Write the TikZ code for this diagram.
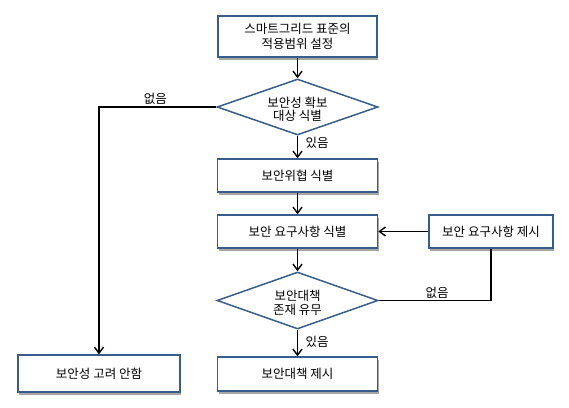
\documentclass[tikz,border=0pt]{standalone}
\usepackage{fontspec}
\setmainfont{Noto Sans CJK KR}
\usetikzlibrary{shapes.geometric,arrows.meta,shadows}
\definecolor{boxblue}{HTML}{385D8A}
\tikzset{
  every node/.style={font=\fontsize{12.5}{14.5}\selectfont},
  procbox/.style={draw=boxblue, line width=1.5pt, fill=white, inner sep=0pt, align=center,
    drop shadow={shadow xshift=1pt, shadow yshift=-2.5pt, fill=black, opacity=0.35}},
  decbox/.style={diamond, draw=boxblue, line width=1.5pt, fill=white, inner sep=0pt, align=center, aspect=2.9},
  conn/.style={line width=1.4pt, black},
  arr/.style={conn, -{Straight Barb[length=6pt,width=9pt]}},
  lbl/.style={inner sep=1.5pt}
}
\newcommand{\lowertext}[1]{\raisebox{-4pt}[\height][\depth]{#1}}
\begin{document}
\begin{tikzpicture}[x=1pt,y=-1pt]
\useasboundingbox (0,0) rectangle (569,407);
\node[procbox, minimum width=159pt, minimum height=41pt] (b1) at (297.5,36.5) {스마트그리드 표준의\\적용범위 설정};
\node[decbox, minimum width=161pt, minimum height=56pt] (d1) at (297.5,107) {\lowertext{\begin{tabular}{@{}c@{}}보안성 확보\\[-1.5pt]대상 식별\end{tabular}}};
\node[procbox, minimum width=160pt, minimum height=33pt] (b2) at (297.5,175.5) {보안위협 식별};
\node[procbox, minimum width=160pt, minimum height=33pt] (b3) at (297.5,231.5) {보안 요구사항 식별};
\node[procbox, minimum width=124pt, minimum height=33pt] (b4) at (491,231.5) {보안 요구사항 제시};
\node[decbox, minimum width=161pt, minimum height=57pt] (d2) at (297.5,300.5) {\lowertext{\begin{tabular}{@{}c@{}}보안대책\\[-1.5pt]존재 유무\end{tabular}}};
\node[procbox, minimum width=160pt, minimum height=34pt] (b5) at (297.5,374) {보안대책 제시};
\node[procbox, minimum width=162pt, minimum height=37pt] (b6) at (99,373.5) {보안성 고려 안함};
\coordinate (c1) at (b6.north |- d1.west);
\coordinate (c2) at (b4.south |- d2.east);
\draw[arr] (b1.south) -- (d1.north);
\draw[arr] (d1.south) -- node[lbl, pos=0.33, anchor=west, xshift=6pt] {있음} (b2.north);
\draw[arr] (b2.south) -- (b3.north);
\draw[arr] (b3.south) -- (d2.north);
\draw[arr] (d2.south) -- node[lbl, pos=0.45, anchor=west, xshift=6pt] {있음} (b5.north);
\draw[arr] (b4.west) -- (b3.east);
\draw[conn] (b4.south) -- (c2) -- node[lbl, pos=0.48, above] {없음} (d2.east);
\draw[arr] (d1.west) -- node[lbl, pos=0.52, above] {없음} (c1) -- (b6.north);
\end{tikzpicture}
\end{document}
